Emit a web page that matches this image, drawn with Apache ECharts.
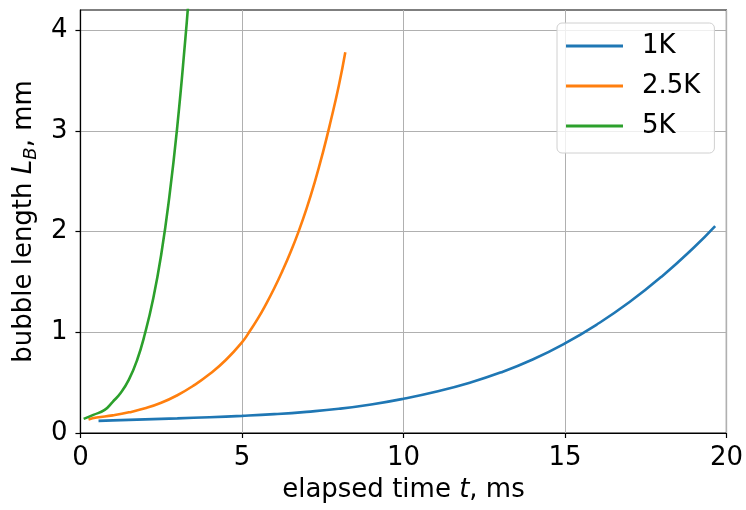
<!DOCTYPE html>
<html>
<head>
<meta charset="utf-8">
<script src="https://cdn.jsdelivr.net/npm/echarts@6/dist/echarts.min.js"></script>
<style>html,body{margin:0;padding:0;background:#fff;}#c{width:746px;height:510px;}</style>
</head>
<body>
<div id="c"></div>
<script>
// Data (t in ms, L_B in mm)
const seriesNames = ['1K', '2.5K', '5K'];
const t1K  = [0.56, 1, 2, 3, 4, 5, 6, 7, 8, 9, 10, 11, 12, 13, 14, 15, 16, 17, 18, 19, 19.65];
const L1K  = [0.12, 0.125, 0.135, 0.145, 0.157, 0.17, 0.187, 0.21, 0.24, 0.283, 0.34, 0.41, 0.495, 0.6, 0.73, 0.89, 1.08, 1.3, 1.555, 1.845, 2.055];
const t25K = [0.25, 0.5, 1, 1.5, 2, 2.5, 3, 3.5, 4, 4.5, 5, 5.25, 5.5, 5.75, 6, 6.25, 6.5, 6.75, 7, 7.25, 7.5, 7.75, 8, 8.2];
const L25K = [0.135, 0.153, 0.175, 0.205, 0.245, 0.3, 0.375, 0.47, 0.585, 0.725, 0.9, 1.015, 1.14, 1.282, 1.437, 1.607, 1.792, 1.997, 2.227, 2.487, 2.777, 3.1, 3.45, 3.78];
const t5K  = [0.1, 0.4, 0.75, 1.0, 1.25, 1.5, 1.75, 2.0, 2.25, 2.5, 2.75, 3.0, 3.25, 3.35];
const L5K  = [0.14, 0.18, 0.23, 0.31, 0.4, 0.53, 0.72, 0.99, 1.33, 1.77, 2.34, 3.05, 3.92, 4.32];
const xTicks = [0, 5, 10, 15, 20];
const yTicks = [0, 1, 2, 3, 4];
const colors = ['#1f77b4', '#ff7f0e', '#2ca02c'];

function pairs(xs, ys) { return xs.map((x, i) => [x, ys[i]]); }
const dataSets = [pairs(t1K, L1K), pairs(t25K, L25K), pairs(t5K, L5K)];

const font = 'DejaVu Sans';
const fs = 26;
const chart = echarts.init(document.getElementById('c'), null, {renderer: 'canvas'});
chart.setOption({
  animation: false,
  backgroundColor: '#fff',
  textStyle: {fontFamily: font},
  grid: {left: 79, right: 18, top: 10, bottom: 77, show: true, borderColor: '#000', borderWidth: 1.2, backgroundColor: 'transparent'},
  xAxis: {
    type: 'value', min: 0, max: 20, interval: 5,
    name: '{n|elapsed time }{i|t}{n|, ms}',
    nameLocation: 'middle', nameGap: 42,
    nameTextStyle: {rich: {
      n: {fontFamily: font, fontSize: fs, color: '#000', lineHeight: 30},
      i: {fontFamily: font, fontSize: fs, fontStyle: 'italic', color: '#000', lineHeight: 30}
    }},
    axisLine: {show: true, onZero: false, lineStyle: {color: '#000', width: 1.2}},
    axisTick: {show: true, length: 5, lineStyle: {color: '#000', width: 1.2}, customValues: xTicks},
    axisLabel: {fontFamily: font, fontSize: fs, color: '#000', margin: 12, customValues: xTicks},
    splitLine: {show: true, lineStyle: {color: '#b0b0b0', width: 1}}
  },
  yAxis: {
    type: 'value', min: 0, max: 4.2, interval: 1,
    name: '{n|bubble length }{i|L}{s|B}{n|, mm}',
    nameLocation: 'middle', nameGap: 40,
    nameTextStyle: {rich: {
      n: {fontFamily: font, fontSize: fs, color: '#000', lineHeight: 30},
      i: {fontFamily: font, fontSize: fs, fontStyle: 'italic', color: '#000', lineHeight: 30},
      s: {fontFamily: font, fontSize: 18, fontStyle: 'italic', color: '#000', lineHeight: 18, padding: [14, 0, 0, 0]}
    }},
    axisLine: {show: true, onZero: false, lineStyle: {color: '#000', width: 1.2}},
    axisTick: {show: true, length: 5, lineStyle: {color: '#000', width: 1.2}, customValues: yTicks},
    axisLabel: {fontFamily: font, fontSize: fs, color: '#000', margin: 13, customValues: yTicks},
    splitLine: {show: true, lineStyle: {color: '#b0b0b0', width: 1}}
  },
  legend: {
    orient: 'vertical', left: 557, top: 23,
    data: seriesNames,
    icon: 'rect',
    itemWidth: 57, itemHeight: 3, itemGap: 10,
    padding: [8, 14, 12, 9],
    backgroundColor: 'rgba(255,255,255,0.8)',
    borderColor: '#d0d0d0', borderWidth: 1, borderRadius: 5,
    textStyle: {fontFamily: font, fontSize: fs, color: '#000', padding: [0, 0, 0, 14], lineHeight: 30}
  },
  series: dataSets.map((d, i) => ({
    name: seriesNames[i], type: 'line', data: d, symbol: 'none',
    smooth: 0.5,
    clip: true,
    lineStyle: {color: colors[i], width: 2.6},
    itemStyle: {color: colors[i]}
  }))
});
</script>
</body>
</html>
